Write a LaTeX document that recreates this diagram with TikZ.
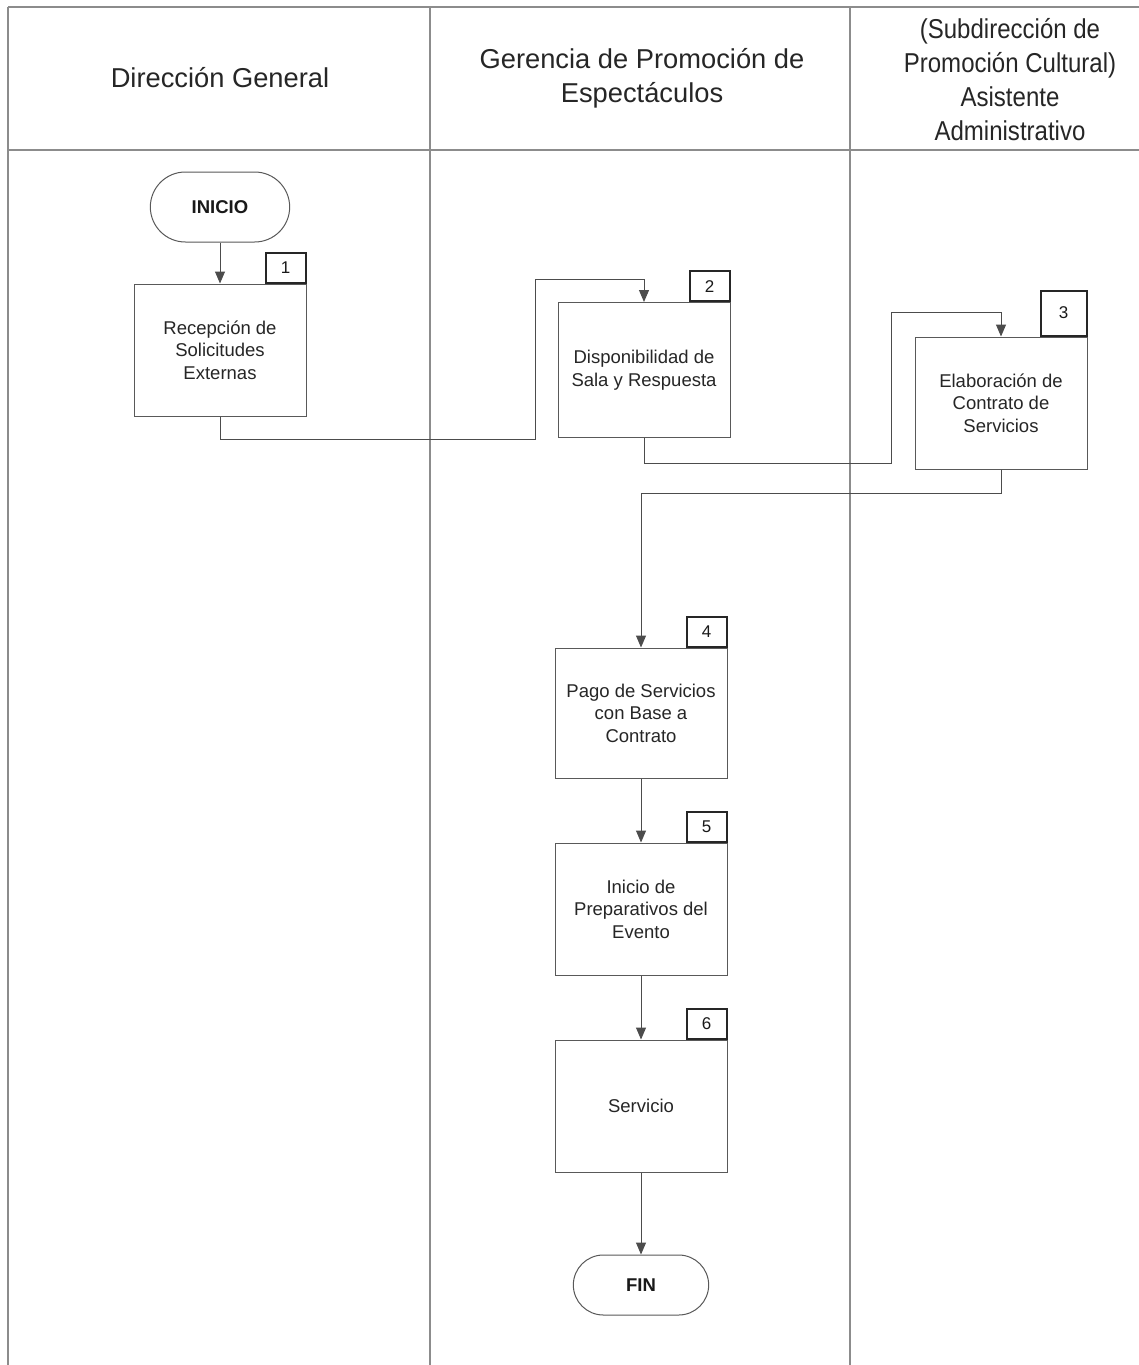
\documentclass[tikz,border=0pt]{standalone}
\usepackage{fontspec}
\setmainfont{Liberation Sans}
\usetikzlibrary{arrows.meta,shapes.misc}
\begin{document}
\begin{tikzpicture}[x=1pt,y=-1pt,
  lane/.style={draw=black!45, line width=1.1pt},
  head/.style={align=center, text=black!85, font=\fontsize{27.3}{34}\selectfont},
  proc/.style={draw=black!65, line width=1pt, fill=white, minimum width=172pt, minimum height=132pt,
     align=center, text=black!85, inner sep=0pt, font=\fontsize{18.5}{22.5}\selectfont},
  numbox/.style={draw=black!85, line width=1.8pt, fill=white, minimum width=40pt, minimum height=30pt,
     inner sep=0pt, text=black!90, font=\fontsize{17}{20}\selectfont, anchor=south east},
  term/.style={rounded rectangle, draw=black!65, line width=1pt, fill=white, minimum width=146pt,
     minimum height=70pt, text=black!90, font=\bfseries\fontsize{18.5}{22}\selectfont},
  flow/.style={draw=black!70, line width=1pt, -{Triangle[length=12pt,width=10pt]}}]
\useasboundingbox (0,0) rectangle (1139,1365);
\fill[white] (0,0) rectangle (1139,1365);
% swimlane frame
\draw[lane] (8,7) -- (1139,7);
\draw[lane] (8,150) -- (1139,150);
\draw[lane] (8,7) -- (8,1365);
\draw[lane] (430,7) -- (430,1365);
\draw[lane] (850,7) -- (850,1365);
% headers
\node[head] (h1) at (220,78) {Dirección General};
\node[head] (h2) at (642,78) {Gerencia de Promoción de\\Espectáculos};
\node[head, xscale=0.88] (h3) at (1010,80) {(Subdirección de\\Promoción Cultural)\\Asistente\\Administrativo};
% nodes
\node[term] (ini) at (220,207) {INICIO};
\node[proc] (b1) at (220,350) {Recepción de\\Solicitudes\\Externas};
\node[numbox] (n1) at (b1.north east) {1};
\node[proc, minimum height=135pt] (b2) at (644,370) {Disponibilidad de\\Sala y Respuesta};
\node[numbox] (n2) at (b2.north east) {2};
\node[proc] (b3) at (1001,403) {Elaboración de\\Contrato de\\Servicios};
\node[numbox, minimum width=46pt, minimum height=45pt] (n3) at (b3.north east) {3};
\node[proc, minimum height=130pt] (b4) at (641,713) {Pago de Servicios\\con Base a\\Contrato};
\node[numbox] (n4) at (b4.north east) {4};
\node[proc] (b5) at (641,909) {Inicio de\\Preparativos del\\Evento};
\node[numbox] (n5) at (b5.north east) {5};
\node[proc] (b6) at (641,1106) {Servicio};
\node[numbox] (n6) at (b6.north east) {6};
\node[term, minimum width=142pt, minimum height=60pt] (fin) at (641,1285) {FIN};
% connectors
\coordinate (c1) at (535,279);
\coordinate (c2) at (891,312);
\draw[flow] (ini.south) -- (b1.north);
\draw[flow] (b1.south) -- ++(0,23) -| (c1) -| (b2.north);
\draw[flow] (b2.south) -- ++(0,25) -| (c2) -| (b3.north);
\draw[flow] (b3.south) -- ++(0,24) -| (b4.north);
\draw[flow] (b4.south) -- (b5.north);
\draw[flow] (b5.south) -- (b6.north);
\draw[flow] (b6.south) -- (fin.north);
\end{tikzpicture}
\end{document}
